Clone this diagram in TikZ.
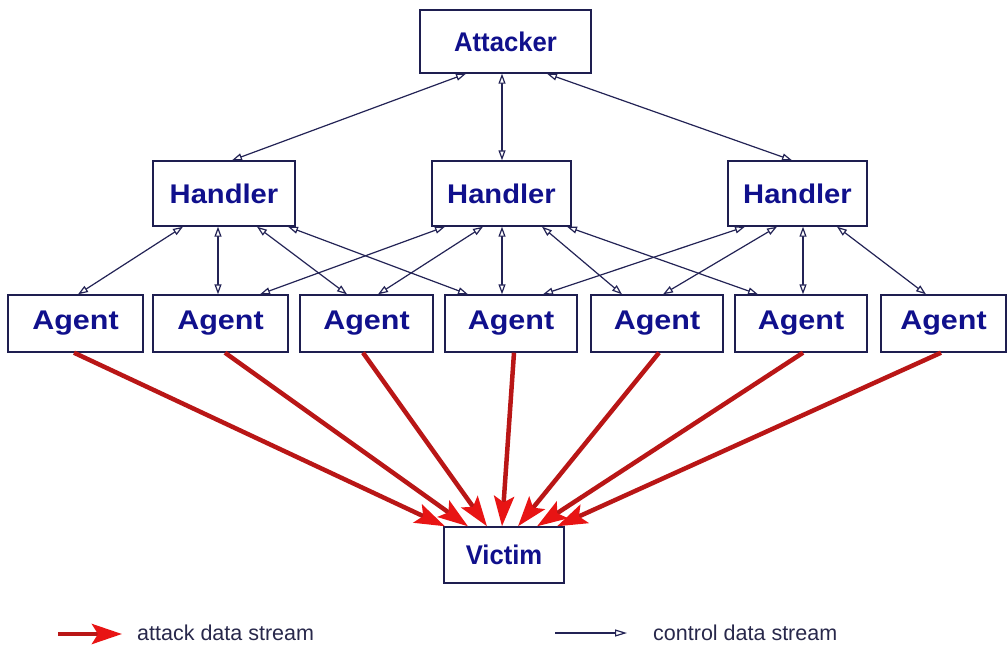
\documentclass[tikz,border=0pt]{standalone}
\usepackage{graphicx}
\usepackage{fontspec}
\setmainfont{Liberation Sans}
\usetikzlibrary{arrows.meta}

\definecolor{boxtext}{RGB}{16,16,140}
\definecolor{boxline}{RGB}{30,30,80}
\definecolor{ctrlline}{RGB}{35,35,85}
\definecolor{attackline}{RGB}{185,22,22}
\definecolor{attackhead}{RGB}{232,20,20}
\definecolor{legendtext}{RGB}{40,40,75}

% horizontally stretched bold label
\newcommand\boxlabel[2]{\scalebox{#1}[1]{#2}}

\tikzset{
  entity/.style={draw=boxline, line width=1.4pt, fill=white, inner sep=0pt,
    text=boxtext, font=\fontsize{27pt}{30pt}\selectfont\bfseries},
  handlerbox/.style={entity, minimum width=139pt, minimum height=65pt},
  agentbox/.style={entity, minimum height=57pt},
  ctrl/.style={draw=ctrlline, line width=1.2pt,
    {Triangle[length=10pt,width=7pt,fill=white]}-{Triangle[length=10pt,width=7pt,fill=white]}},
  attack/.style={draw=attackline, line width=4.5pt,
    -{Stealth[length=30pt,width=20pt,inset=6pt,color=attackhead]}},
  legendlabel/.style={anchor=west, inner sep=0pt, text=legendtext,
    font=\fontsize{21.5pt}{24pt}\selectfont}
}

\begin{document}
\begin{tikzpicture}[x=1pt,y=-1pt]
  \useasboundingbox[fill=white] (0,0) rectangle (1008,648);

  % attacker
  \node[entity, minimum width=171pt, minimum height=63pt] (att) at (505.5,41.5)
    {\boxlabel{0.95}{Attacker}};

  % handlers
  \node[handlerbox, minimum width=142pt] (h1) at (224,193.5) {\boxlabel{1.08}{Handler}};
  \node[handlerbox] (h2) at (501.5,193.5) {\boxlabel{1.08}{Handler}};
  \node[handlerbox] (h3) at (797.5,193.5) {\boxlabel{1.08}{Handler}};

  % agents
  \node[agentbox, minimum width=135pt] (a1) at (75.5,323.5)  {\boxlabel{1.13}{Agent}};
  \node[agentbox, minimum width=135pt] (a2) at (220.5,323.5) {\boxlabel{1.13}{Agent}};
  \node[agentbox, minimum width=133pt] (a3) at (366.5,323.5) {\boxlabel{1.13}{Agent}};
  \node[agentbox, minimum width=132pt] (a4) at (511,323.5)   {\boxlabel{1.13}{Agent}};
  \node[agentbox, minimum width=132pt] (a5) at (657,323.5)   {\boxlabel{1.13}{Agent}};
  \node[agentbox, minimum width=132pt] (a6) at (801,323.5)   {\boxlabel{1.13}{Agent}};
  \node[agentbox, minimum width=125pt] (a7) at (943.5,323.5) {\boxlabel{1.13}{Agent}};

  % victim
  \node[entity, minimum width=120pt, minimum height=56pt] (vic) at (504,555)
    {\boxlabel{0.95}{Victim}};

  % control links: attacker -- handlers
  \draw[ctrl] ([xshift=-39.5pt]att.south) -- ([xshift=8pt]h1.north);
  \draw[ctrl] ([xshift=-3.5pt]att.south)  -- ([xshift=0.5pt]h2.north);
  \draw[ctrl] ([xshift=41.5pt]att.south)  -- ([xshift=-5.5pt]h3.north);

  % control links: handlers -- agents
  \draw[ctrl] ([xshift=-41pt]h1.south) -- ([xshift=2.5pt]a1.north);
  \draw[ctrl] ([xshift=-6pt]h1.south)  -- ([xshift=-2.5pt]a2.north);
  \draw[ctrl] ([xshift=33pt]h1.south)  -- ([xshift=-19.5pt]a3.north);
  \draw[ctrl] ([xshift=64pt]h1.south)  -- ([xshift=-43pt]a4.north);

  \draw[ctrl] ([xshift=-56.5pt]h2.south) -- ([xshift=39.5pt]a2.north);
  \draw[ctrl] ([xshift=-18.5pt]h2.south) -- ([xshift=11.5pt]a3.north);
  \draw[ctrl] ([xshift=0.5pt]h2.south)   -- ([xshift=-9pt]a4.north);
  \draw[ctrl] ([xshift=40.5pt]h2.south)  -- ([xshift=-35pt]a5.north);
  \draw[ctrl] ([xshift=65.5pt]h2.south)  -- ([xshift=-43pt]a6.north);

  \draw[ctrl] ([xshift=-52.5pt]h3.south) -- ([xshift=32pt]a4.north);
  \draw[ctrl] ([xshift=-20.5pt]h3.south) -- ([xshift=6pt]a5.north);
  \draw[ctrl] ([xshift=5.5pt]h3.south)   -- ([xshift=2pt]a6.north);
  \draw[ctrl] ([xshift=39.5pt]h3.south)  -- ([xshift=-17.5pt]a7.north);

  % attack streams: agents -> victim
  \draw[attack] ([xshift=-1.5pt]a1.south) -- ([xshift=-59pt]vic.north);
  \draw[attack] ([xshift=4.5pt]a2.south)  -- ([xshift=-36pt]vic.north);
  \draw[attack] ([xshift=-3.5pt]a3.south) -- ([xshift=-17pt]vic.north);
  \draw[attack] ([xshift=3pt]a4.south)    -- ([xshift=-2pt]vic.north);
  \draw[attack] ([xshift=2pt]a5.south)    -- ([xshift=14pt]vic.north);
  \draw[attack] ([xshift=2pt]a6.south)    -- ([xshift=33pt]vic.north);
  \draw[attack] ([xshift=-2.5pt]a7.south) -- ([xshift=53pt]vic.north);

  % legend
  \coordinate (la1) at (58,634);
  \coordinate (la2) at (122,634);
  \draw[attack] (la1) -- (la2);
  \node[legendlabel] (latxt) at (137,633) {attack data stream};

  \coordinate (lc1) at (555,633);
  \coordinate (lc2) at (627,633);
  \draw[draw=ctrlline, line width=1.2pt,
    -{Triangle[length=12pt,width=7pt,fill=white]}] (lc1) -- (lc2);
  \node[legendlabel] (lctxt) at (653,633) {control data stream};
\end{tikzpicture}
\end{document}
